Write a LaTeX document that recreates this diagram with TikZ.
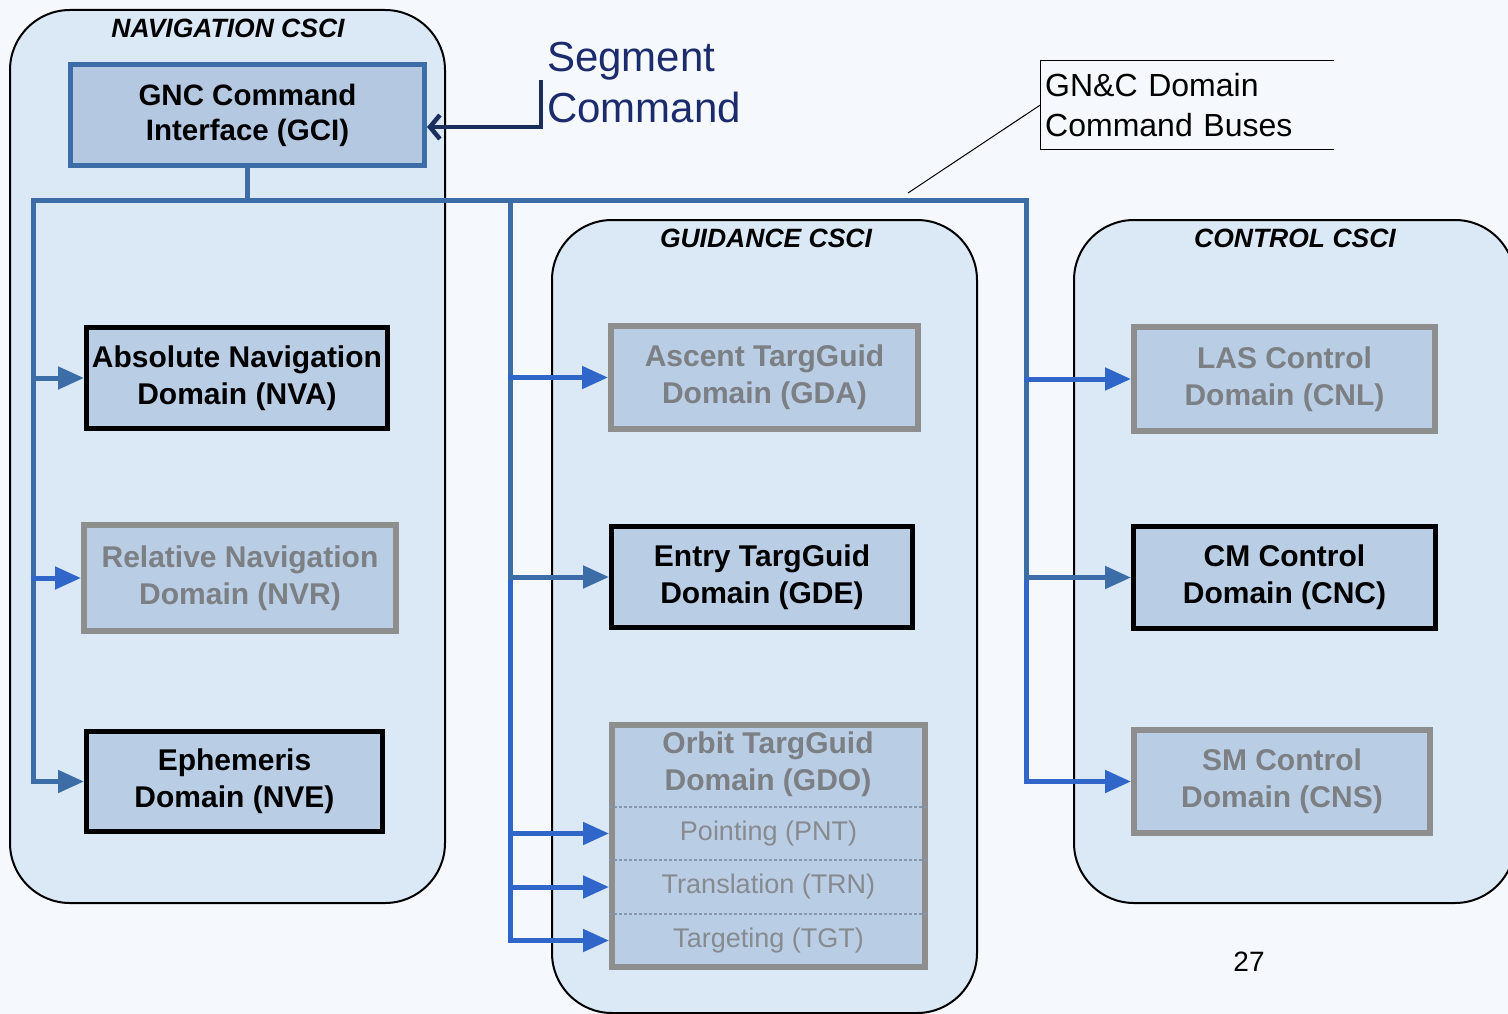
\documentclass[tikz,border=0pt]{standalone}
\usepackage{fontspec}
\setmainfont{Liberation Sans}
\usetikzlibrary{arrows.meta}
\definecolor{bgc}{HTML}{F5F9FD}
\definecolor{contc}{HTML}{DBE9F7}
\definecolor{boxc}{HTML}{B9CDE5}
\definecolor{gcifill}{HTML}{B4C8E2}
\definecolor{steel}{HTML}{3C6DA6}
\definecolor{bright}{HTML}{3065CA}
\definecolor{grayb}{HTML}{8E8E8E}
\definecolor{grayt}{HTML}{7C7F83}
\definecolor{graysub}{HTML}{878A8F}
\definecolor{navy}{HTML}{1C2B6C}
\definecolor{navyline}{HTML}{1A2F5C}
\definecolor{sepc}{HTML}{8797AE}
\begin{document}
\begin{tikzpicture}[x=1pt,y=-1pt,
  container/.style={draw=black,line width=2pt,fill=contc,rounded corners=60pt},
  ctitle/.style={font=\fontsize{26.5}{30}\selectfont\bfseries\itshape},
  dombox/.style={fill=boxc,line width=5pt,inner sep=0pt,align=center,
    font=\fontsize{30}{37}\selectfont\bfseries},
  activebox/.style={dombox,draw=black,text=black},
  idlebox/.style={dombox,draw=grayb,text=grayt,line width=6pt},
  subrow/.style={inner sep=0pt,minimum width=300pt,text=graysub,
    font=\fontsize{27}{30}\selectfont},
  sepline/.style={draw=sepc,line width=1.5pt,dash pattern=on 3pt off 2pt},
  bus/.style={line width=5pt,draw=steel,line cap=rect},
  busb/.style={bus,draw=bright},
  arr/.style={bus,-{Triangle[length=26pt,width=22pt]}},
  arrb/.style={busb,-{Triangle[length=26pt,width=22pt]}}
]
\useasboundingbox (0,0) rectangle (1508,1014);
\fill[bgc] (0,0) rectangle (1508,1014);

% containers
\draw[container] (10,10) rectangle (445,903);
\draw[container] (552,220) rectangle (977,1013);
\draw[container] (1074,220) rectangle (1515,903);
\node[ctitle] (navtitle) at (228,28) {NAVIGATION CSCI};
\node[ctitle] (guidtitle) at (766,238) {GUIDANCE CSCI};
\node[ctitle] (ctrltitle) at (1295,238) {CONTROL CSCI};

% GCI
\node[dombox,draw=steel,fill=gcifill,text=black,minimum width=354pt,minimum height=101pt,
  font=\fontsize{29.5}{35}\selectfont\bfseries] (gci) at (247.5,115) {GNC Command\\Interface (GCI)};

% navigation boxes
\node[activebox,minimum width=301pt,minimum height=101pt] (nva) at (237,378) {Absolute Navigation\\Domain (NVA)};
\node[idlebox,minimum width=312pt,minimum height=106pt] (nvr) at (240,578) {Relative Navigation\\Domain (NVR)};
\node[activebox,minimum width=296pt,minimum height=100pt] (nve) at (234.5,781.5) {Ephemeris\\Domain (NVE)};

% guidance boxes
\node[idlebox,minimum width=307pt,minimum height=103pt] (gda) at (764.5,377.5) {Ascent TargGuid\\Domain (GDA)};
\node[activebox,minimum width=301pt,minimum height=101pt] (gde) at (762,577) {Entry TargGuid\\Domain (GDE)};
\node[idlebox,minimum width=313pt,minimum height=242pt] (gdo) at (768.5,846) {};
\node[dombox,fill=none,draw=none,text=grayt] (gdotitle) at (768,764) {Orbit TargGuid\\Domain (GDO)};
\node[subrow,minimum height=53pt] (pnt) at (768.5,833.5) {Pointing (PNT)};
\node[subrow,minimum height=54pt] (trn) at (768.5,887) {Translation (TRN)};
\node[subrow,minimum height=53pt] (tgt) at (768.5,940.5) {Targeting (TGT)};
\draw[sepline] (gdo.west |- pnt.north) -- (gdo.east |- pnt.north);
\draw[sepline] (gdo.west |- trn.north) -- (gdo.east |- trn.north);
\draw[sepline] (gdo.west |- tgt.north) -- (gdo.east |- tgt.north);

% control boxes
\node[idlebox,minimum width=301pt,minimum height=104pt] (cnl) at (1284.5,379) {LAS Control\\Domain (CNL)};
\node[activebox,minimum width=302pt,minimum height=102pt] (cnc) at (1284.5,577.5) {CM Control\\Domain (CNC)};
\node[idlebox,minimum width=296pt,minimum height=103pt] (cns) at (1282,781.5) {SM Control\\Domain (CNS)};

% bus
\coordinate (busL) at (33,200);
\coordinate (busM) at (510,200);
\coordinate (busR) at (1026,200);
\draw[bus] (gci.south) -- (gci.south |- busL);
\draw[bus] (busL |- nve.west) -- (busL) -- (busR) -- (busR |- cnc.west);
\draw[bus] (busM) -- (busM |- gde.west);
\draw[busb] (busM |- gde.west) -- (busM |- tgt);
\draw[busb] (busR |- cnc.west) -- (busR |- cns.west);

\draw[arr] (busL |- nva.west) -- (nva.west);
\draw[arrb] (busL |- nvr.west) -- (nvr.west);
\draw[arr] (busL |- nve.west) -- (nve.west);
\draw[arrb] (busM |- gda.west) -- (gda.west);
\draw[arr] (busM |- gde.west) -- (gde.west);
\draw[arrb] (busM |- pnt) -- (gdo.west |- pnt);
\draw[arrb] (busM |- trn) -- (gdo.west |- trn);
\draw[arrb] (busM |- tgt) -- (gdo.west |- tgt);
\draw[arrb] (busR |- cnl.west) -- (cnl.west);
\draw[arr] (busR |- cnc.west) -- (cnc.west);
\draw[arrb] (busR |- cns.west) -- (cns.west);

% segment command
\node[anchor=west,align=left,inner sep=0pt,text=navy,font=\fontsize{42}{51}\selectfont] (seg) at (547,83) {Segment\\Command};
\coordinate (segTop) at (541,80);
\draw[navyline,line width=4.5pt,-{Straight Barb[length=10pt,width=24pt]}] (segTop) |- ([yshift=-12pt]gci.east);

% callout
\node[anchor=north west,inner xsep=5pt,inner ysep=0pt,minimum width=294pt,minimum height=88pt,
  text width=284pt,align=left,font=\fontsize{32}{40}\selectfont] (callout) at (1040,61) {GN\&C Domain\\Command Buses};
\draw[line width=1pt] (callout.north east) -- (callout.north west) -- (callout.south west) -- (callout.south east);
\coordinate (busPt) at (908,193);
\draw[line width=1pt] (callout.west) -- (busPt);

% page number
\node[font=\fontsize{28}{32}\selectfont] (pagenum) at (1249,962) {27};
\end{tikzpicture}
\end{document}
